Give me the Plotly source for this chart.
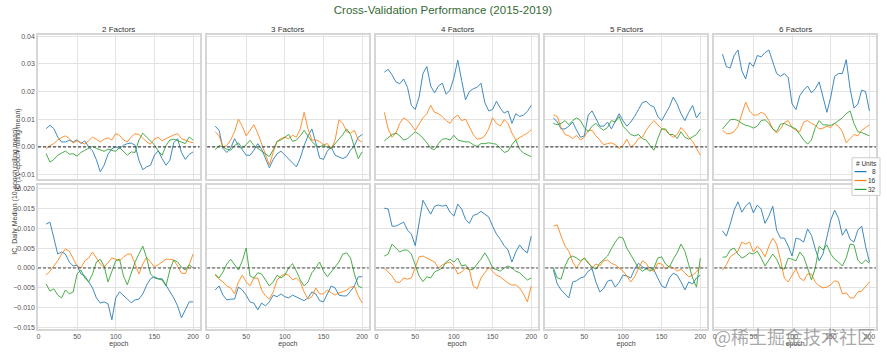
import plotly.graph_objects as go
from plotly.subplots import make_subplots

# ---------------- data ----------------
epochs = list(range(10, 201, 5))
factor_titles = ["2 Factors", "3 Factors", "4 Factors", "5 Factors", "6 Factors"]
unit_labels = ["8", "16", "32"]
legend_title = "# Units"
y_titles = ["IC (10-epoch rolling mean)", "IC, Daily Median (10-epoch rolling mean)"]
top_ticks = [-0.01, 0.0, 0.01, 0.02, 0.03, 0.04]
bottom_ticks = [-0.015, -0.010, -0.005, 0.0, 0.005, 0.010, 0.015, 0.020]
x_ticks = [0, 50, 100, 150, 200]

# IC (10-epoch rolling mean)
ic_2f_8 = [0.0066, 0.0078, 0.0066, 0.0036, 0.0018, 0.0018, 0.0024, 0.0018, 0.0026, 0.0012,
           0.0022, 0.0, -0.0014, -0.0046, -0.009, -0.0066, -0.0027, -0.0006, 0.0, -0.0006,
           0.0006, 0.0012, 0.0014, 0.0006, -0.0048, -0.0082, -0.0072, -0.0066, -0.003, -0.0014,
           -0.0042, -0.0066, -0.0048, 0.0015, 0.003, -0.002, -0.0045, -0.0027, -0.0018]
ic_2f_16 = [-0.0006, 0.0005, 0.0012, 0.0025, 0.0034, 0.004, 0.003, 0.0014, 0.0022, 0.0015,
            0.001, 0.0022, 0.0035, 0.0028, 0.0018, 0.0028, 0.0033, 0.0025, 0.0048, 0.0042,
            0.0025, 0.0018, 0.0036, 0.0048, 0.0045, 0.0032, 0.0018, 0.001, 0.0028, 0.0035,
            0.0022, 0.003, 0.0038, 0.0043, 0.0048, 0.003, 0.0025, 0.0018, 0.0016]
ic_2f_32 = [-0.0024, -0.0055, -0.0045, -0.003, -0.0022, -0.0015, -0.0026, -0.0025, -0.0033, -0.002,
            -0.0012, -0.0004, 0.0002, -0.0005, -0.0012, -0.0016, -0.0008, -0.0013, -0.0016, -0.0002,
            -0.0018, -0.003, -0.0018, -0.002, 0.0025, 0.005, 0.0035, 0.002, 0.0008, -0.0015,
            -0.003, 0.0005, 0.0025, 0.0028, 0.0022, 0.0018, 0.0012, 0.0036, 0.0025]
ic_3f_8 = [0.0075, 0.006, -0.0005, -0.002, -0.0005, 0.003, 0.0005, -0.001, -0.003, -0.003,
           -0.0012, 0.0012, -0.0008, -0.004, -0.0075, -0.0045, -0.0025, -0.0015, -0.003, -0.0045,
           -0.006, -0.0072, -0.004, 0.0005, 0.004, 0.0065, 0.0015, -0.004, -0.0045, -0.0015,
           0.0, -0.003, -0.0036, -0.0042, -0.0035, -0.0012, 0.0005, 0.0035, 0.0045]
ic_3f_16 = [0.0055, 0.004, 0.0, 0.0005, 0.0025, 0.0055, 0.01, 0.0075, 0.004, 0.006,
            0.008, 0.005, 0.001, -0.003, -0.0065, -0.002, 0.002, 0.003, 0.0035, 0.003,
            0.0042, 0.0035, 0.0065, 0.0125, 0.0065, 0.0025, 0.0025, 0.002, 0.0008, 0.0012,
            -0.0008, 0.0025, 0.0098, 0.0085, 0.0055, 0.005, 0.006, 0.0025, 0.0018]
ic_3f_32 = [-0.001, 0.0005, 0.0, -0.0008, -0.0012, 0.0005, 0.0015, -0.0005, 0.0008, 0.0024,
            0.0005, -0.0005, -0.0012, -0.0025, -0.0035, -0.001, 0.002, 0.0025, 0.0035, 0.0045,
            0.002, 0.0025, 0.004, 0.006, 0.004, 0.002, 0.0005, 0.0, 0.0008, -0.0002,
            -0.0005, 0.0012, 0.0025, 0.0045, 0.0065, 0.0045, 0.0, -0.0042, -0.0018]
ic_4f_8 = [0.027, 0.028, 0.026, 0.0235, 0.0228, 0.0245, 0.0215, 0.015, 0.0135, 0.018,
           0.0265, 0.029, 0.022, 0.0195, 0.022, 0.023, 0.019, 0.0205, 0.025, 0.0313,
           0.024, 0.017, 0.02, 0.021, 0.0215, 0.023, 0.016, 0.013, 0.0135, 0.0165,
           0.014, 0.0122, 0.013, 0.0085, 0.012, 0.011, 0.0115, 0.0128, 0.015]
ic_4f_16 = [0.0125, 0.0065, 0.0035, 0.005, 0.0085, 0.0105, 0.0095, 0.008, 0.006, 0.0085,
            0.0105, 0.012, 0.015, 0.0125, 0.012, 0.011, 0.0095, 0.0085, 0.0105, 0.0115,
            0.0095, 0.01, 0.007, 0.0045, 0.0028, 0.003, 0.004, 0.0065, 0.0105, 0.0085,
            0.0075, 0.0098, 0.0085, 0.005, 0.0025, 0.0032, 0.0042, 0.005, 0.0062]
ic_4f_32 = [0.0022, 0.0032, 0.0045, 0.005, 0.004, 0.0025, 0.003, 0.0042, 0.0055, 0.0045,
            0.0032, 0.0015, -0.0005, -0.001, 0.0012, 0.0028, 0.003, 0.0025, 0.0042, 0.0025,
            0.0022, 0.0018, 0.0018, 0.0008, 0.0002, 0.0012, 0.0012, 0.0015, 0.0012, 0.001,
            -0.0005, -0.002, -0.0015, 0.0008, 0.0025, -0.0008, -0.0022, -0.0028, -0.0035]
ic_5f_8 = [0.0105, 0.009, 0.0065, 0.0065, 0.0075, 0.009, 0.006, 0.0035, 0.004, 0.0115,
           0.013, 0.01, 0.0075, 0.0075, 0.009, 0.0065, 0.009, 0.012, 0.0095, 0.0075,
           0.009, 0.011, 0.0135, 0.016, 0.0165, 0.015, 0.0145, 0.011, 0.0095, 0.012,
           0.0145, 0.018, 0.0155, 0.012, 0.0095, 0.0125, 0.015, 0.0105, 0.0125]
ic_5f_16 = [0.0115, 0.011, 0.007, 0.0045, 0.004, 0.003, 0.0042, 0.0025, 0.0035, 0.006,
            0.006, 0.004, 0.0025, 0.0008, 0.0012, 0.0015, 0.0008, -0.0005, 0.0005, 0.0028,
            0.0, 0.001, 0.003, 0.0035, 0.006, 0.008, 0.0095, 0.008, 0.0065, 0.006,
            0.0045, 0.0035, 0.0045, 0.007, 0.0055, 0.0035, 0.002, -0.0005, -0.003]
ic_5f_32 = [0.0085, 0.008, 0.0085, 0.0095, 0.008, 0.0095, 0.0105, 0.0095, 0.007, 0.0055,
            0.0075, 0.0085, 0.007, 0.006, 0.007, 0.0095, 0.009, 0.011, 0.0075, 0.006,
            0.0045, 0.004, 0.0045, 0.003, 0.0025, 0.0005, -0.0012, 0.003, 0.0065, 0.0065,
            0.0045, 0.0045, 0.003, 0.0055, 0.0035, 0.0028, 0.0035, 0.0045, 0.0065]
ic_6f_8 = [0.0335, 0.029, 0.0285, 0.033, 0.035, 0.0275, 0.0245, 0.0305, 0.029, 0.033,
           0.0325, 0.034, 0.035, 0.031, 0.0265, 0.0255, 0.0265, 0.025, 0.0155, 0.0135,
           0.0185, 0.0205, 0.022, 0.0195, 0.021, 0.0235, 0.018, 0.0125, 0.018, 0.0255,
           0.0265, 0.0265, 0.0315, 0.021, 0.014, 0.0155, 0.0205, 0.02, 0.013]
ic_6f_16 = [0.006, 0.0048, 0.0048, 0.0055, 0.0075, 0.012, 0.0162, 0.013, 0.0115, 0.0115,
            0.0125, 0.0118, 0.0095, 0.0065, 0.005, 0.0065, 0.0088, 0.0095, 0.007, 0.006,
            0.0055, 0.009, 0.0095, 0.0085, 0.0078, 0.0065, 0.0068, 0.0075, 0.007, 0.0085,
            0.0075, 0.0055, 0.0015, 0.003, 0.0045, 0.004, 0.006, 0.007, 0.008]
ic_6f_32 = [0.0065, 0.008, 0.0098, 0.01, 0.0095, 0.0085, 0.0078, 0.0075, 0.0068, 0.0075,
            0.0095, 0.0098, 0.0085, 0.0065, 0.0055, 0.0082, 0.0085, 0.0078, 0.007, 0.0065,
            0.0045, 0.0025, 0.001, 0.0025, 0.007, 0.0095, 0.008, 0.0078, 0.0078, 0.0085,
            0.0095, 0.0105, 0.012, 0.013, 0.0085, 0.0055, 0.0052, 0.0045, 0.004]

# IC, Daily Median (10-epoch rolling mean)
med_2f_8 = [0.011, 0.0115, 0.0075, 0.0035, 0.004, 0.0035, 0.0015, 0.0005, 0.0007, -0.0015,
            -0.002, -0.0035, -0.005, -0.0075, -0.0088, -0.0085, -0.009, -0.013, -0.0075, -0.006,
            -0.0068, -0.0078, -0.0087, -0.008, -0.0078, -0.0065, -0.0043, -0.0027, -0.0022, -0.0027,
            -0.0027, -0.0043, -0.0062, -0.0075, -0.0095, -0.0125, -0.0105, -0.0085, -0.0085]
med_2f_16 = [-0.0018, -0.0008, 0.0005, 0.0018, 0.0035, 0.0048, 0.0042, 0.0025, 0.0005, 0.0,
             0.0018, 0.0025, 0.004, 0.0025, 0.001, 0.0002, 0.0015, 0.0025, 0.0022, 0.0018,
             0.0027, 0.0035, 0.0035, 0.0012, -0.0015, 0.001, 0.0027, 0.0015, 0.0003, 0.0008,
             0.0015, 0.0022, 0.0022, 0.002, 0.0005, -0.0013, -0.0014, 0.0008, 0.0035]
med_2f_32 = [-0.004, -0.0058, -0.0052, -0.0068, -0.0075, -0.0055, -0.0065, -0.006, -0.0015, -0.0005,
             -0.0025, -0.0035, -0.0015, 0.0015, 0.0022, 0.0005, -0.0035, -0.001, 0.0018, 0.0022,
             -0.002, -0.0042, -0.0015, 0.0015, 0.0035, 0.0055, 0.0025, -0.0015, -0.0025, -0.0028,
             -0.003, -0.0045, -0.0005, 0.002, 0.0015, 0.0002, -0.0005, 0.0008, 0.0]
med_3f_8 = [-0.0055, -0.0045, -0.0068, -0.008, -0.0078, -0.0078, -0.0048, -0.0055, -0.0068, -0.0085,
            -0.0088, -0.0105, -0.0088, -0.0095, -0.0085, -0.0068, -0.0072, -0.0065, -0.0072, -0.0075,
            -0.0068, -0.0072, -0.0078, -0.0082, -0.0075, -0.006, -0.0065, -0.0082, -0.0085, -0.0065,
            -0.0045, -0.005, -0.0068, -0.007, -0.007, -0.0058, -0.0045, -0.0022, -0.0022]
med_3f_16 = [-0.0018, -0.0028, -0.0035, -0.0045, -0.005, -0.0065, -0.0035, -0.0018, -0.0035, -0.0045,
             -0.0025, -0.0025, -0.0055, -0.007, -0.0078, -0.006, -0.003, -0.002, -0.0015, -0.0018,
             -0.003, -0.0025, -0.0035, -0.006, -0.0078, -0.0072, -0.005, -0.0065, -0.0065, -0.0055,
             -0.0062, -0.0068, -0.0062, -0.006, -0.0055, -0.0048, -0.0046, -0.007, -0.0088]
med_3f_32 = [-0.0015, -0.0025, -0.001, 0.001, 0.0022, 0.0008, -0.0005, 0.0018, 0.005, -0.002,
             -0.0025, -0.0012, -0.0015, -0.003, -0.0045, -0.0035, -0.0018, -0.0025, -0.0018, 0.0,
             0.0011, -0.0008, -0.003, -0.0045, -0.0035, -0.0012, 0.0, 0.0015, -0.0008, -0.0022,
             -0.001, 0.0002, 0.0015, 0.0035, 0.0038, 0.0025, -0.0015, -0.0045, -0.005]
med_4f_8 = [0.015, 0.0148, 0.0105, 0.0105, 0.011, 0.0115, 0.0095, 0.0085, 0.0056, 0.0118,
            0.017, 0.0152, 0.0135, 0.0155, 0.0158, 0.0155, 0.0158, 0.014, 0.013, 0.016,
            0.0148, 0.0122, 0.0112, 0.0132, 0.0135, 0.0142, 0.0134, 0.0128, 0.0105, 0.0085,
            0.0072, 0.0056, 0.0045, 0.0015, 0.004, 0.0058, 0.0045, 0.0038, 0.008]
med_4f_16 = [0.0, -0.001, -0.002, -0.0035, -0.0036, -0.0025, -0.0028, -0.0025, 0.0, 0.0028,
             0.003, 0.0025, 0.0022, 0.0015, 0.0, 0.0008, 0.0012, 0.0015, 0.0005, -0.0015,
             -0.001, 0.0, -0.0005, -0.0045, -0.0052, -0.0025, -0.0012, 0.0002, -0.0008, -0.0018,
             -0.0022, -0.003, -0.0038, -0.0043, -0.0042, -0.005, -0.0065, -0.0085, -0.0045]
med_4f_32 = [0.003, 0.0035, 0.006, 0.005, 0.004, 0.0045, 0.0045, 0.0035, 0.001, -0.002,
             -0.0034, -0.0022, -0.0025, -0.001, -0.0005, 0.0, 0.0015, 0.0022, 0.0015, 0.0025,
             0.0005, 0.0008, -0.0005, -0.0003, 0.001, 0.0022, 0.0038, 0.0022, 0.0, -0.0005,
             -0.0008, 0.0, 0.0005, 0.0, -0.0008, -0.0012, -0.0022, -0.003, -0.0025]
med_5f_8 = [-0.0005, -0.004, -0.0055, -0.0065, -0.0075, -0.0035, -0.0032, -0.0025, -0.0022, -0.0008,
            -0.0002, -0.0035, -0.006, -0.0052, -0.0033, -0.003, -0.0048, -0.0036, -0.0018, -0.002,
            -0.0025, -0.0003, 0.0012, 0.0003, -0.0002, 0.0002, -0.0005, -0.0025, -0.0045, -0.005,
            -0.0025, -0.0013, -0.0018, -0.0035, -0.0055, -0.0035, -0.004, -0.0025, -0.0018]
med_5f_16 = [0.0105, 0.0108, 0.008, 0.0055, 0.0042, 0.0015, 0.0, 0.0015, 0.0025, 0.0015,
             0.0, 0.001, 0.0005, 0.0018, 0.002, 0.0012, 0.0008, 0.0, -0.0008, -0.002,
             -0.0035, -0.0022, 0.0, 0.0018, 0.0012, -0.0005, -0.0008, 0.0012, 0.001, -0.0003,
             0.0005, 0.0, -0.0008, -0.0003, -0.0012, -0.0022, -0.0018, -0.001, 0.0005]
med_5f_32 = [0.0, -0.0025, -0.0028, 0.0005, 0.0025, 0.003, 0.0025, 0.0018, 0.0025, 0.0012,
             0.0003, -0.0003, 0.0012, 0.002, 0.003, 0.0048, 0.0065, 0.0078, 0.0075, 0.005,
             0.0033, 0.0018, 0.0, -0.0008, -0.0002, -0.0008, 0.0, 0.0025, 0.0028, 0.001,
             0.0002, 0.0022, 0.0038, 0.006, 0.0042, 0.0008, -0.0025, -0.0048, 0.0025]
med_6f_8 = [0.0093, 0.008, 0.011, 0.0145, 0.0166, 0.014, 0.0155, 0.0165, 0.0138, 0.0158,
            0.0148, 0.0112, 0.013, 0.0155, 0.0095, 0.0075, 0.0075, 0.0055, 0.003, 0.0075,
            0.0072, 0.0065, 0.0098, 0.0082, 0.0048, 0.0018, 0.0035, 0.0075, 0.012, 0.0145,
            0.0125, 0.0082, 0.0098, 0.0072, 0.0065, 0.0095, 0.0105, 0.0055, 0.0015]
med_6f_16 = [-0.0005, 0.0008, 0.0028, 0.0035, 0.0042, 0.0065, 0.006, 0.0065, 0.004, 0.0055,
             0.0045, 0.0028, 0.0055, 0.0075, 0.006, 0.002, -0.0025, -0.0035, -0.0018, -0.0002,
             -0.0025, -0.0032, -0.0015, -0.0015, -0.0035, -0.0045, -0.005, -0.0048, -0.0042, -0.0032,
             -0.0035, -0.0065, -0.0062, -0.0075, -0.0075, -0.006, -0.0058, -0.0045, -0.0035]
med_6f_32 = [0.0027, 0.0028, 0.0045, 0.005, 0.0035, 0.0025, 0.003, 0.0038, 0.0035, 0.0042,
             0.0025, 0.0005, 0.002, 0.0035, 0.0022, 0.0, -0.0003, 0.0025, 0.0022, 0.0018,
             0.004, 0.0028, 0.0, -0.003, 0.0, 0.0055, 0.0045, 0.0058, 0.0035, 0.0022,
             0.0015, 0.0005, 0.0025, 0.006, 0.0058, 0.002, 0.001, 0.002, 0.0012]

# ---------------- assemble ----------------
ic_series = [
    [ic_2f_8, ic_2f_16, ic_2f_32],
    [ic_3f_8, ic_3f_16, ic_3f_32],
    [ic_4f_8, ic_4f_16, ic_4f_32],
    [ic_5f_8, ic_5f_16, ic_5f_32],
    [ic_6f_8, ic_6f_16, ic_6f_32],
]
med_series = [
    [med_2f_8, med_2f_16, med_2f_32],
    [med_3f_8, med_3f_16, med_3f_32],
    [med_4f_8, med_4f_16, med_4f_32],
    [med_5f_8, med_5f_16, med_5f_32],
    [med_6f_8, med_6f_16, med_6f_32],
]
for grp in ic_series + med_series:
    for s in grp:
        assert len(s) == len(epochs), len(s)

colors = ["#1f77b4", "#ff7f0e", "#2ca02c"]
FONT = "Liberation Sans, Arial, sans-serif"
W, H = 886, 354
ML, MR, MT, MB = 38, 8, 35, 22
PW, PH = W - ML - MR, H - MT - MB


def px(xp):
    return (xp - ML) / PW


def py(yp):
    return (H - MB - yp) / PH


fig = make_subplots(rows=2, cols=5, shared_xaxes=True, shared_yaxes=True,
                    horizontal_spacing=0.0089, vertical_spacing=0.0236,
                    subplot_titles=factor_titles)

for row, data in enumerate([ic_series, med_series], start=1):
    for col in range(5):
        for k in range(3):
            fig.add_trace(go.Scatter(
                x=epochs, y=data[col][k], mode="lines",
                name=unit_labels[k], legendgroup=unit_labels[k],
                showlegend=False,
                line=dict(color=colors[k], width=1),
                opacity=0.85,
            ), row=row, col=col + 1)
        fig.add_hline(y=0, row=row, col=col + 1,
                      line=dict(color="#4a4a4a", width=1.2, dash="3px,2px"))

axis_common = dict(showgrid=True, gridcolor="#e3e3e3", gridwidth=1,
                   showline=True, linecolor="#d6d6d6", linewidth=1.5, mirror=True,
                   zeroline=False, ticks="",
                   tickfont=dict(size=7, color="#555555", family=FONT))
fig.update_xaxes(**axis_common, range=[-0.5, 208.5], tickvals=x_ticks)
fig.update_yaxes(**axis_common)
fig.update_yaxes(range=[-0.0114, 0.0404], tickvals=top_ticks, tickformat=".2f", row=1)
fig.update_yaxes(range=[-0.0153, 0.0207], tickvals=bottom_ticks, tickformat=".3f", row=2)
for c in range(1, 6):
    fig.update_xaxes(title=dict(text="epoch", font=dict(size=7, color="#444444", family=FONT),
                                standoff=1), row=2, col=c)

for ann in fig.layout.annotations:
    ann.font = dict(size=8, color="#333333", family=FONT)
    ann.yshift = -1

# y axis titles
dom_top = fig.layout.yaxis.domain
dom_bot = fig.layout.yaxis6.domain
fig.add_annotation(text=y_titles[0], xref="paper", yref="paper", x=0,
                   y=(dom_top[0] + dom_top[1]) / 2, xshift=-26, textangle=-90,
                   showarrow=False, font=dict(size=7, color="#444444", family=FONT))
fig.add_annotation(text=y_titles[1], xref="paper", yref="paper", x=0,
                   y=(dom_bot[0] + dom_bot[1]) / 2, xshift=-29, textangle=-90,
                   showarrow=False, font=dict(size=7, color="#444444", family=FONT))

# compact legend box (drawn like the reference's small matplotlib legend)
fig.add_shape(type="rect", xref="paper", yref="paper",
              x0=px(854), x1=px(882), y0=py(197), y1=py(159),
              line=dict(color="#cccccc", width=1), fillcolor="rgba(255,255,255,0.9)",
              layer="above")
fig.add_annotation(text=legend_title, xref="paper", yref="paper", x=px(868), y=py(164.5),
                   xanchor="center", yanchor="middle", showarrow=False,
                   font=dict(size=6.5, color="#333333", family=FONT))
for k, lab in enumerate(unit_labels):
    yy = 173 + 9 * k
    fig.add_shape(type="line", xref="paper", yref="paper",
                  x0=px(856.5), x1=px(868.5), y0=py(yy), y1=py(yy),
                  line=dict(color=colors[k], width=1.2), layer="above")
    fig.add_annotation(text=lab, xref="paper", yref="paper", x=px(880), y=py(yy),
                       xanchor="right", yanchor="middle", showarrow=False,
                       font=dict(size=6.5, color="#333333", family=FONT))

# watermark
fig.add_annotation(text="@稀土掘金技术社区", xref="paper", yref="paper", x=px(879), y=py(339),
                   xanchor="right", yanchor="middle", showarrow=False,
                   font=dict(size=18, color="rgba(130,130,130,0.7)",
                             family="Noto Sans CJK SC"))

fig.update_layout(
    width=W, height=H,
    margin=dict(l=ML, r=MR, t=MT, b=MB),
    paper_bgcolor="white", plot_bgcolor="white",
    showlegend=False,
    font=dict(family=FONT, size=7, color="#444444"),
    title=dict(text="Cross-Validation Performance (2015-2019)", x=0.5, xref="container",
               y=0.972, yref="container", xanchor="center", yanchor="middle",
               font=dict(size=11.5, color="#356a35", family=FONT)),
)

fig.write_html("out.html")
